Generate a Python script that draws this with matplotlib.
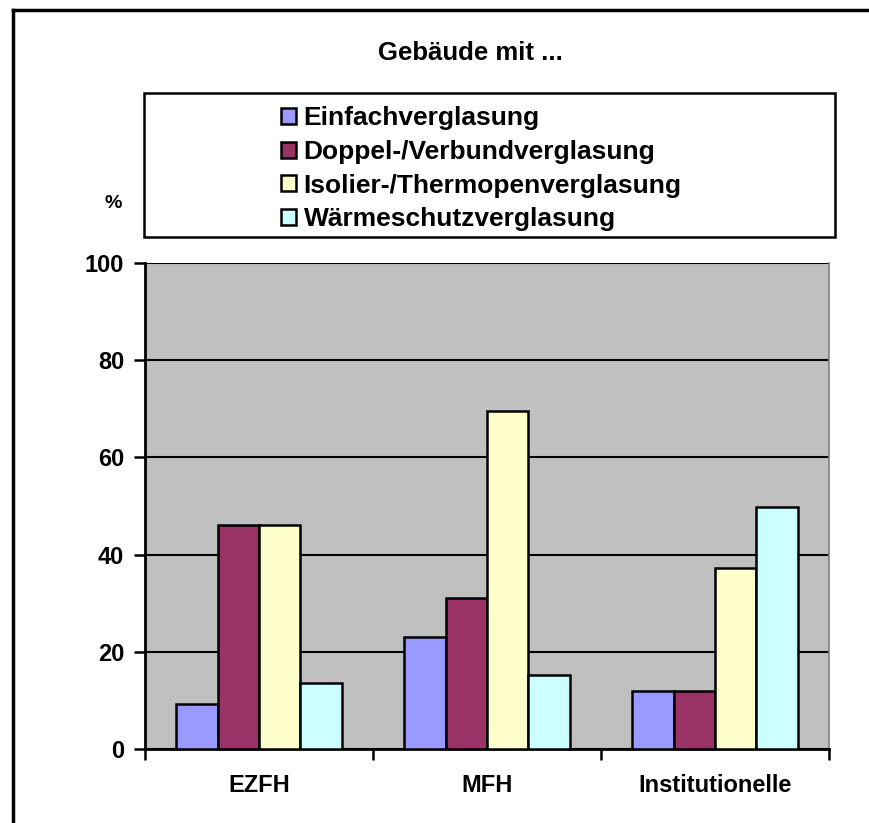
import matplotlib
matplotlib.use("Agg")
import matplotlib.pyplot as plt
import numpy as np
from matplotlib.patches import Rectangle
from matplotlib.lines import Line2D

plt.rcParams['font.family'] = ['Liberation Sans', 'DejaVu Sans']
plt.rcParams['font.weight'] = 'bold'

categories = ['EZFH', 'MFH', 'Institutionelle']
series_names = ['Einfachverglasung', 'Doppel-/Verbundverglasung',
                'Isolier-/Thermopenverglasung', 'Wärmeschutzverglasung']
einfach = [9.3, 23, 12]
doppel = [46, 31, 12]
isolier = [46, 69.5, 37.2]
waerme = [13.6, 15.3, 49.8]
values = [einfach, doppel, isolier, waerme]
colors = ['#9999FF', '#993366', '#FFFFCC', '#CCFFFF']
yticks = [0, 20, 40, 60, 80, 100]

W, H = 870, 823
fig = plt.figure(figsize=(W / 100, H / 100), dpi=100)
fig.patch.set_facecolor('white')

ax = fig.add_axes([145 / W, 1 - 749 / H, 684 / W, 486 / H])
ax.set_facecolor('#C0C0C0')

x = np.arange(len(categories))
bw = 0.182
handles = []
for i, (vals, col) in enumerate(zip(values, colors)):
    b = ax.bar(x + (i - 1.5) * bw, vals, bw, color=col, edgecolor='black',
               linewidth=1.8, zorder=3)
    handles.append(b)

ax.set_xlim(-0.5, 2.5)
ax.set_ylim(0, 100)
ax.set_yticks(yticks)
ax.set_yticklabels([str(t) for t in yticks], fontsize=17, fontweight='bold')
ax.yaxis.grid(True, color='black', linewidth=1.5, zorder=1)
ax.set_axisbelow(True)

# category ticks sit on the group boundaries, labels in the middle
ax.set_xticks([-0.5, 0.5, 1.5, 2.5])
ax.set_xticklabels([])
ax.set_xticks(x, minor=True)
ax.set_xticklabels(categories, minor=True, fontsize=17, fontweight='bold')
ax.tick_params(axis='x', which='minor', length=0, pad=18)
ax.tick_params(axis='x', which='major', length=8, width=1.8, direction='out')
ax.tick_params(axis='y', length=8, width=1.8, direction='out', pad=7)

for side in ['top', 'right']:
    ax.spines[side].set_visible(False)
ax.spines['left'].set_linewidth(2)
ax.spines['bottom'].set_linewidth(2)
ax.plot([1, 1], [0, 1], transform=ax.transAxes, color='#808080',
        linewidth=1.2, clip_on=False, zorder=2)

fig.text(470 / W, 1 - 53 / H, 'Gebäude mit ...', ha='center', va='center',
         fontsize=18.5, fontweight='bold')
fig.text(113 / W, 1 - 203 / H, '%', ha='center', va='center',
         fontsize=14, fontweight='bold')

# legend box
fig.add_artist(Rectangle((144 / W, 1 - 237 / H), (835 - 144) / W, (237 - 93) / H,
                         transform=fig.transFigure, facecolor='white',
                         edgecolor='black', linewidth=1.8, zorder=0))
fig.legend(handles, series_names, loc='upper left',
           bbox_to_anchor=(268 / W, 1 - 93 / H), frameon=False,
           prop={'size': 19, 'weight': 'bold'}, handlelength=0.55,
           handleheight=0.55, handletextpad=0.3, labelspacing=0.37,
           borderpad=0)

# outer frame (top and left edges)
fig.add_artist(Line2D([13 / W, 1], [1 - 10 / H, 1 - 10 / H],
                      transform=fig.transFigure, color='black', linewidth=2.5))
fig.add_artist(Line2D([13 / W, 13 / W], [0, 1 - 10 / H],
                      transform=fig.transFigure, color='black', linewidth=2.5))

fig.savefig('out.png', dpi=100)
